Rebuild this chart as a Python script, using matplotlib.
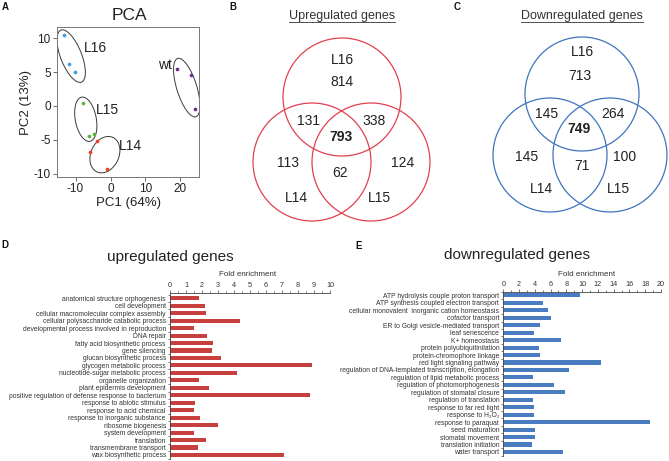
"""
Transcriptome overview: PCA of samples, Venn diagrams of up/down regulated
genes and GO fold-enrichment bars.
"""

import matplotlib

matplotlib.use("Agg")
import matplotlib.pyplot as plt
from matplotlib.patches import Circle, Ellipse
from matplotlib.transforms import ScaledTranslation

plt.rcParams["font.family"] = ["Liberation Sans", "DejaVu Sans"]
plt.rcParams["axes.unicode_minus"] = False

W, H = 669, 461

# ---- PCA data ----
pca_groups = ["L16", "L15", "L14", "wt"]
pca_colors = ["#3d9be0", "#62ad3c", "#ea4322", "#6b2d90"]
pca_pc1 = [[-13.3, -11.9, -10.1], [-8.0, -4.7, -6.25], [-3.9, -5.8, -1.0], [19.1, 23.0, 24.1]]
pca_pc2 = [[10.4, 6.2, 4.95], [0.5, -4.1, -4.5], [-5.15, -6.8, -9.3], [5.5, 4.5, -0.4]]
# ellipse centre (data), semi axes (px), angle (deg)
ell_center = [(-11.25, 7.35), (-7.07, -1.97), (-1.6, -7.2), (21.8, 2.7)]
ell_axes = [(28, 10.5), (22.5, 10.5), (19, 14), (30.6, 10)]
ell_angle = [111.6, 100.6, 65, 107.4]
label_pos = [(-4.3, 8.6), (-0.8, -0.6), (5.8, -5.9), (15.7, 6.0)]

# ---- Venn data ----
venn_up_counts = ["L16", "814", "131", "793", "338", "113", "62", "124", "L14", "L15"]
venn_down_counts = ["L16", "713", "145", "749", "264", "145", "71", "100", "L14", "L15"]
venn_bold = [False, False, False, True, False, False, False, False, False, False]

# ---- GO enrichment data ----
up_terms = [
    "anatomical structure orphogenesis",
    "cell development",
    "cellular macromolecular complex assembly",
    "cellular polysaccharide catabolic process",
    "developmental process involved in reproduction",
    "DNA repair",
    "fatty acid biosynthetic process",
    "gene silencing",
    "glucan biosynthetic process",
    "glycogen metabolic process",
    "nucleotide-sugar metabolic process",
    "organelle organization",
    "plant epidermis development",
    "positive regulation of defense response to bacterium",
    "response to abiotic stimulus",
    "response to acid chemical",
    "response to inorganic substance",
    "ribosome biogenesis",
    "system development",
    "translation",
    "transmembrane transport",
    "wax biosynthetic process",
]
up_fold = [1.81, 2.19, 2.25, 4.38, 1.5, 2.33, 2.67, 2.65, 3.21, 8.88, 4.17,
           1.79, 2.42, 8.73, 1.54, 1.52, 1.88, 3.0, 1.48, 2.23, 1.77, 7.13]

down_terms = [
    "ATP hydrolysis couple proton transport",
    "ATP synthesis coupled electron transport",
    "cellular monovalent  inorganic cation homeostasis",
    "cofactor transport",
    "ER to Golgi vesicle-mediated transport",
    "leaf senescence",
    "K+ homeostasis",
    "protein polyubiquitinilation",
    "protein-chromophore linkage",
    "red light signaling pathway",
    "regulation of DNA-templated transcription, elongation",
    "regulation of lipid metabolic process",
    "regulation of photomorphogenesis",
    "regulation of stomatal closure",
    "regulation of translation",
    "response to far red light",
    "response to H\u2082O\u2082",
    "response to paraquat",
    "seed maturation",
    "stomatal movement",
    "translation initiation",
    "water transport",
]
down_fold = [9.73, 5.03, 5.71, 6.0, 4.65, 3.93, 7.36, 4.48, 4.65, 12.43, 8.29,
             3.81, 6.47, 7.82, 3.72, 3.93, 3.93, 18.6, 4.06, 4.06, 3.59, 7.53]


def fbox(x0, y0, x1, y1):
    return [x0 / W, 1 - y1 / H, (x1 - x0) / W, (y1 - y0) / H]


fig = plt.figure(figsize=(W / 100, H / 100), dpi=100)

# ---------------- A: PCA ----------------
ax = fig.add_axes(fbox(57, 27, 199, 177))
for g, c, xs, ys in zip(pca_groups, pca_colors, pca_pc1, pca_pc2):
    ax.scatter(xs, ys, s=7, color=c, zorder=3, linewidths=0)
for (cx, cy), (a, b), ang in zip(ell_center, ell_axes, ell_angle):
    tr = fig.dpi_scale_trans + ScaledTranslation(cx, cy, ax.transData)
    ax.add_patch(Ellipse((0, 0), 2 * a / 100, 2 * b / 100, angle=ang, transform=tr,
                         fill=False, edgecolor="#3a3a3a", linewidth=0.7))
for g, (lx, ly) in zip(pca_groups, label_pos):
    ax.text(lx, ly, g, fontsize=10, ha="center", va="center", color="#222222")
ax.set_xlim(-15.3, 25.3)
ax.set_ylim(-10.5, 11.65)
ax.set_xticks([-10, 0, 10, 20])
ax.set_yticks([-10, -5, 0, 5, 10])
ax.tick_params(labelsize=8.5, length=3, width=0.6, color="#555555", pad=1.5,
               labelcolor="#222222")
for s in ax.spines.values():
    s.set_color("#777777")
    s.set_linewidth(0.7)
ax.set_xlabel("PC1 (64%)", fontsize=9.5, labelpad=1, color="#222222")
ax.set_ylabel("PC2 (13%)", fontsize=9.5, labelpad=1, color="#222222")
fig.text(129 / W, 1 - 15 / H, "PCA", fontsize=12.5, ha="center", va="center", color="#222222")

# ---------------- B / C: Venn ----------------
ov = fig.add_axes([0, 0, 1, 1])
ov.set_xlim(0, W)
ov.set_ylim(H, 0)
ov.axis("off")
ov.patch.set_alpha(0)

venn_specs = [
    # circle centres (px), radius, colour, label offsets (px from layout centre)
    dict(centres=[(342, 97), (312, 162), (371, 162)], r=59, color="#e2404f",
         origin=(342, 129.5), counts=venn_up_counts,
         offsets=[(0, -70), (0, -48), (-33, -9), (-1, 7), (32, -9),
                  (-54, 33), (-2, 43), (61, 33), (-46, 68), (37, 68)],
         title="Upregulated genes", title_xy=(342, 16)),
    dict(centres=[(582, 94), (550, 155), (610, 155)], r=57, color="#3f74be",
         origin=(581, 124.5), counts=venn_down_counts,
         offsets=[(1, -72), (-1, -48), (-34, -11), (-2, 4), (32, -11),
                  (-54, 32), (1, 41), (44, 32), (-40, 64), (37, 64)],
         title="Downregulated genes", title_xy=(582, 16)),
]
for spec in venn_specs:
    for cx, cy in spec["centres"]:
        ov.add_patch(Circle((cx, cy), spec["r"], fill=False,
                            edgecolor=spec["color"], linewidth=0.9))
    ox, oy = spec["origin"]
    for txt, (dx, dy), bold in zip(spec["counts"], spec["offsets"], venn_bold):
        ov.text(ox + dx, oy + dy, txt, fontsize=10, ha="center", va="center",
                color="#222222", fontweight="bold" if bold else "normal")
    tx, ty = spec["title_xy"]
    t = ov.text(tx, ty, spec["title"], fontsize=9, ha="center", va="center", color="#333333")
    fig.canvas.draw()
    bb = t.get_window_extent(fig.canvas.get_renderer())
    ov.plot([bb.x0, bb.x1], [H - bb.y0 + 0.5, H - bb.y0 + 0.5], color="#333333", linewidth=0.6)

# ---------------- D / E: GO bars ----------------
bar_specs = [
    dict(box=(170, 293, 330, 458.7), terms=up_terms, vals=up_fold, color="#c8403d",
         xmax=10, major=1, minor=0.5, ytop=-0.71, title="upregulated genes",
         title_xy=(170, 257), flab_xy=(248, 275)),
    dict(box=(503.3, 291.7, 661, 455.7), terms=down_terms, vals=down_fold, color="#4a7cc2",
         xmax=20, major=2, minor=1, ytop=-0.4, title="downregulated genes",
         title_xy=(517, 255), flab_xy=(587, 274)),
]
for spec in bar_specs:
    bx = fig.add_axes(fbox(*spec["box"]))
    n = len(spec["terms"])
    pos = list(range(n))
    bx.barh(pos, spec["vals"], height=0.55, color=spec["color"], linewidth=0)
    bx.set_xlim(0, spec["xmax"])
    bx.set_ylim(n - 0.5, spec["ytop"])
    bx.xaxis.tick_top()
    bx.set_xticks([i * spec["major"] for i in range(int(spec["xmax"] / spec["major"]) + 1)])
    bx.set_xticks([i * spec["minor"] for i in range(int(spec["xmax"] / spec["minor"]) + 1)],
                  minor=True)
    bx.set_yticks(pos)
    bx.set_yticklabels(spec["terms"])
    bx.set_yticks([i - 0.5 for i in range(n + 1)], minor=True)
    bx.tick_params(axis="x", which="major", direction="out", length=2, width=0.5,
                   labelsize=5.2, pad=1, color="#444444", labelcolor="#333333")
    bx.tick_params(axis="x", which="minor", direction="out", length=1.2, width=0.5,
                   color="#444444")
    bx.tick_params(axis="y", which="major", length=0, labelsize=4.9, pad=3,
                   labelcolor="#333333")
    bx.tick_params(axis="y", which="minor", direction="out", length=1.8, width=0.5,
                   color="#444444")
    for side in ["right", "bottom"]:
        bx.spines[side].set_visible(False)
    for side in ["top", "left"]:
        bx.spines[side].set_linewidth(0.6)
        bx.spines[side].set_color("#444444")
    tx, ty = spec["title_xy"]
    fig.text(tx / W, 1 - ty / H, spec["title"], fontsize=11, ha="center", va="center",
             color="#222222")
    fx, fy = spec["flab_xy"]
    fig.text(fx / W, 1 - fy / H, "Fold enrichment", fontsize=5.8, ha="center", va="center",
             color="#333333")

# ---------------- panel letters ----------------
for letter, (lx, ly) in zip("ABCDE", [(5, 7), (233, 7), (457, 7), (5, 245), (359, 246)]):
    fig.text(lx / W, 1 - ly / H, letter, fontsize=7, fontweight="bold", ha="center",
             va="center", color="#111111")

fig.savefig("out.png", dpi=100)
